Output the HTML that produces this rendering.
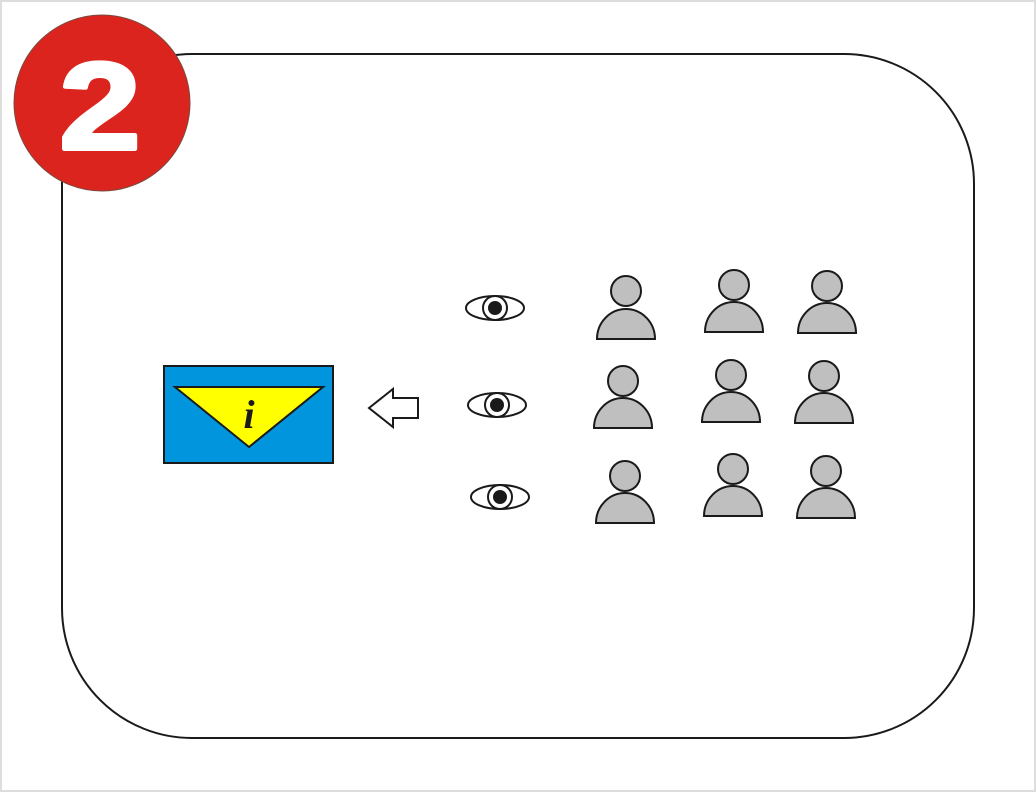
<!DOCTYPE html>
<html><head><meta charset="utf-8"><style>
html,body{margin:0;padding:0;background:#fff}
svg{display:block}
</style></head><body>
<svg width="1036" height="792" viewBox="0 0 1036 792">
<rect x="1" y="1" width="1034" height="790" fill="#fff" stroke="#ddd" stroke-width="2"/>
<rect x="62" y="54" width="912" height="684" rx="130" ry="130" fill="none" stroke="#1a1a1a" stroke-width="2"/>
<g>
<circle cx="102" cy="103" r="88" fill="#dc241e" stroke="#7a4a40" stroke-width="1"/>
<text x="0" y="0" transform="translate(100,149) scale(1.18,1)" text-anchor="middle" font-family="Liberation Sans, sans-serif" font-weight="bold" font-size="124" fill="#fff" stroke="#fff" stroke-width="4" stroke-linejoin="round">2</text>
</g>
<g>
<rect x="164" y="366" width="169" height="97" fill="#0095dd" stroke="#1a1a1a" stroke-width="2"/>
<polygon points="175,387 323,387 249,447" fill="#ffff00" stroke="#1a1a1a" stroke-width="2"/>
<text x="249" y="428" text-anchor="middle" font-family="Liberation Serif, serif" font-style="italic" font-weight="bold" font-size="40" fill="#1a1a1a">i</text>
</g>
<polygon points="369,408 393,389 393,398 418,398 418,418 393,418 393,427" fill="#fff" stroke="#1a1a1a" stroke-width="2"/>
<g id="eyes"></g>
<g id="people"></g>
</svg>
<script>
const eyes=[[495,308],[497,405],[500,497]];
const people=[[626,291,339],[734,285,332],[827,286,333],[623,381,428],[731,375,422],[824,376,423],[625,476,523],[733,469,516],[826,471,518]];
const NS='http://www.w3.org/2000/svg';
function mk(t,a){const e=document.createElementNS(NS,t);for(const k in a)e.setAttribute(k,a[k]);return e;}
const eg=document.getElementById('eyes');
eyes.forEach(([x,y])=>{
 const g=mk('g',{});
 
 
 g.appendChild(mk('ellipse',{cx:x,cy:y,rx:29,ry:12,fill:'#fff',stroke:'#1a1a1a','stroke-width':2}));
 g.appendChild(mk('circle',{cx:x,cy:y,r:12,fill:'#fff',stroke:'#1a1a1a','stroke-width':2}));
 g.appendChild(mk('circle',{cx:x,cy:y,r:7,fill:'#1a1a1a'}));
 eg.appendChild(g);
});
const pg=document.getElementById('people');
people.forEach(([x,hy,by])=>{
 const g=mk('g',{});
 
 
 g.appendChild(mk('path',{d:`M${x-29},${by} A29,30 0 0 1 ${x+29},${by} Z`,fill:'#c0bfc0',stroke:'#1a1a1a','stroke-width':2}));
 g.appendChild(mk('circle',{cx:x,cy:hy,r:15,fill:'#c0bfc0',stroke:'#1a1a1a','stroke-width':2}));
 pg.appendChild(g);
});
</script>
</body></html>
